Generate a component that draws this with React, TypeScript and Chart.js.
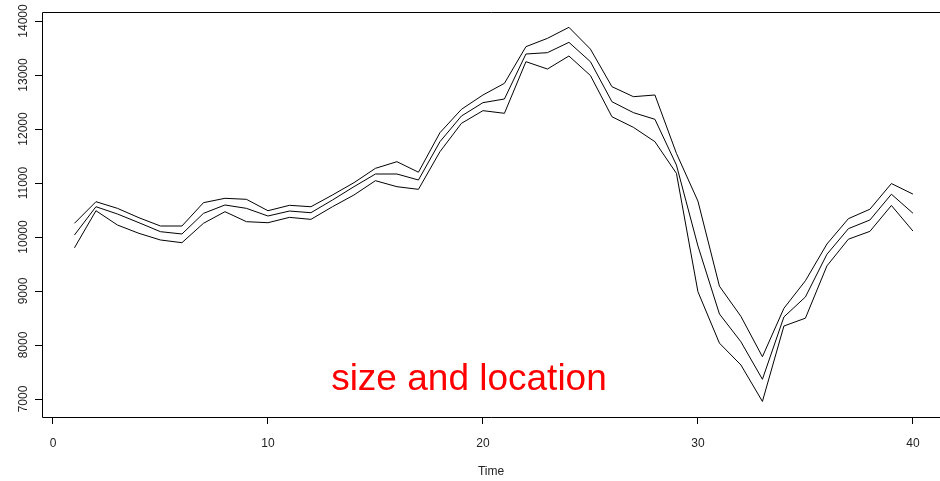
import React, { useEffect, useRef } from "react";
import { Chart, registerables } from "chart.js";

Chart.register(...registerables);

const time = [1, 2, 3, 4, 5, 6, 7, 8, 9, 10, 11, 12, 13, 14, 15, 16, 17, 18, 19, 20, 21, 22, 23, 24, 25, 26, 27, 28, 29, 30, 31, 32, 33, 34, 35, 36, 37, 38, 39, 40];

const upper = [10254, 10654, 10531, 10357, 10204, 10204, 10636, 10717, 10698, 10487, 10587, 10561, 10778, 11006, 11272, 11395, 11200, 11932, 12365, 12630, 12846, 13525, 13679, 13883, 13480, 12784, 12599, 12630, 11549, 10665, 9090, 8530, 7783, 8680, 9190, 9870, 10340, 10515, 10990, 10795];

const middle = [10037, 10561, 10426, 10265, 10099, 10056, 10438, 10593, 10531, 10389, 10481, 10450, 10685, 10932, 11167, 11167, 11056, 11765, 12241, 12488, 12556, 13389, 13414, 13605, 13247, 12506, 12303, 12180, 11333, 9835, 8575, 8060, 7365, 8520, 8890, 9680, 10155, 10315, 10793, 10441];

const lower = [9800, 10487, 10222, 10068, 9945, 9895, 10254, 10469, 10284, 10265, 10364, 10327, 10561, 10778, 11043, 10932, 10883, 11580, 12105, 12340, 12291, 13247, 13111, 13352, 12991, 12228, 12031, 11765, 11179, 8987, 8035, 7630, 6955, 8352, 8497, 9465, 9960, 10105, 10584, 10111];

const xTicks = [0, 10, 20, 30, 40];
const yTicks = [7000, 8000, 9000, 10000, 11000, 12000, 13000, 14000];

const xTitle = "Time";
const note = "size and location";
const noteAt = { x: 19.35, y: 7167 };

const FONT = "'Liberation Sans', Arial, sans-serif";

export default function App() {
  const ref = useRef<HTMLCanvasElement | null>(null);

  useEffect(() => {
    document.body.style.margin = "0";
    const canvas = ref.current;
    if (!canvas) return;

    const toPts = (ys: number[]) => time.map((t, i) => ({ x: t, y: ys[i] }));

    const boxPlugin = {
      id: "boxPlugin",
      afterDraw(chart: any) {
        const { ctx, chartArea } = chart;
        ctx.save();
        ctx.strokeStyle = "#000";
        ctx.lineWidth = 1;
        ctx.beginPath();
        const l = Math.round(chartArea.left) + 0.5;
        const t = Math.round(chartArea.top) + 0.5;
        const b = Math.round(chartArea.bottom) + 0.5;
        ctx.moveTo(chart.width, t);
        ctx.lineTo(l, t);
        ctx.lineTo(l, b);
        ctx.lineTo(chart.width, b);
        ctx.stroke();
        const xs = chart.scales.x;
        const ys = chart.scales.y;
        ctx.fillStyle = "#ff0000";
        ctx.font = `37px ${FONT}`;
        ctx.textAlign = "center";
        ctx.textBaseline = "alphabetic";
        ctx.fillText(note, xs.getPixelForValue(noteAt.x), ys.getPixelForValue(noteAt.y));
        ctx.restore();
      },
    };

    const chart = new Chart(canvas, {
      type: "line",
      data: {
        datasets: [
          { data: toPts(upper), borderColor: "#000", borderWidth: 1, pointRadius: 0, tension: 0, fill: false },
          { data: toPts(middle), borderColor: "#000", borderWidth: 1, pointRadius: 0, tension: 0, fill: false },
          { data: toPts(lower), borderColor: "#000", borderWidth: 1, pointRadius: 0, tension: 0, fill: false },
        ],
      },
      options: {
        animation: false,
        responsive: false,
        maintainAspectRatio: false,
        layout: { padding: { top: 12, right: 0, left: 0, bottom: 0 } },
        plugins: { legend: { display: false }, tooltip: { enabled: false } },
        scales: {
          x: {
            type: "linear",
            min: -0.51,
            max: 41.26,
            afterBuildTicks: (s: any) => {
              s.ticks = xTicks.map((v) => ({ value: v }));
            },
            afterFit: (s: any) => {
              s.height = 64;
            },
            grid: { drawOnChartArea: false, drawTicks: true, tickLength: 7, color: "#000", lineWidth: 1 },
            border: { display: false },
            ticks: {
              padding: 12,
              color: "#222",
              font: { family: FONT, size: 12 },
              maxRotation: 0,
              minRotation: 0,
              autoSkip: false,
              callback: (v: any) => String(v),
            },
            title: {
              display: true,
              text: xTitle,
              color: "#222",
              font: { family: FONT, size: 12 },
              padding: { top: 0, bottom: 2 },
            },
          },
          y: {
            type: "linear",
            min: 6667,
            max: 14167,
            afterBuildTicks: (s: any) => {
              s.ticks = yTicks.map((v) => ({ value: v }));
            },
            afterFit: (s: any) => {
              s.width = 42;
            },
            grid: { drawOnChartArea: false, drawTicks: true, tickLength: 7, color: "#000", lineWidth: 1 },
            border: { display: false },
            ticks: {
              padding: -5,
              crossAlign: "center",
              minRotation: 90,
              maxRotation: 90,
              color: "#222",
              font: { family: FONT, size: 12 },
              autoSkip: false,
              callback: (v: any) => String(v),
            },
          },
        },
      },
      plugins: [boxPlugin],
    } as any);

    return () => chart.destroy();
  }, []);

  return (
    <div style={{ width: 940, height: 481 }}>
      <canvas ref={ref} width={940} height={481} style={{ display: "block", width: 940, height: 481 }} />
    </div>
  );
}
